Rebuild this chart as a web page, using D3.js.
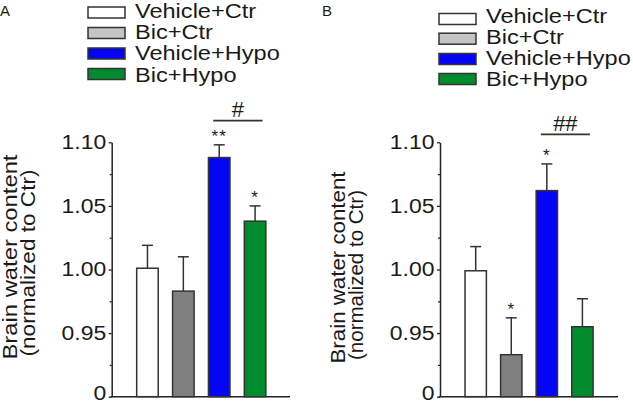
<!DOCTYPE html>
<html><head><meta charset="utf-8">
<script src="https://cdn.jsdelivr.net/npm/d3@7"></script>
<style>
html,body{margin:0;padding:0;background:#fff;}
svg text{font-family:"Liberation Sans",Arial,Helvetica,sans-serif;fill:#1a1a1a;}
</style></head>
<body>
<svg id="chart" width="633" height="404"></svg>
<script>
// ---- data ----
const categories = ["Vehicle+Ctr", "Bic+Ctr", "Vehicle+Hypo", "Bic+Hypo"];
const valuesA = [1.001, 0.983, 1.088, 1.038];
const errorsA = [0.018, 0.027, 0.010, 0.012];
const starsA  = ["", "", "**", "*"];
const valuesB = [0.999, 0.933, 1.062, 0.955];
const errorsB = [0.019, 0.029, 0.021, 0.022];
const starsB  = ["", "*", "*", ""];
const hashA = "#";
const hashB = "##";
const majorTicks = [0.90, 0.95, 1.00, 1.05, 1.10];
const tickLabels = ["0", "0.95", "1.00", "1.05", "1.10"];
const minorTicks = [0.925, 0.975, 1.025, 1.075];
const yLabel1 = "Brain water content";
const yLabel2 = "(normalized to Ctr)";
const barColors = ["#ffffff", "#808080", "#0505f5", "#008c2c"];
const legendColors = ["#ffffff", "#c4c4c4", "#0505f5", "#008c2c"];

const svg = d3.select("#chart");
const y = d3.scaleLinear().domain([0.90, 1.10]).range([396.7, 142.3]);
const SX = 1.12; // horizontal stretch of glyphs in the original figure

function stretchedText(g, x, yy, str, size, anchor, sx) {
  return g.append("text")
    .attr("transform", `translate(${x},${yy}) scale(${sx || SX},1)`)
    .attr("font-size", size)
    .attr("text-anchor", anchor || "start")
    .text(str);
}
function rotatedText(g, x, yCenter, str, size, len) {
  return g.append("text")
    .attr("transform", `translate(${x},${yCenter}) rotate(-90)`)
    .attr("font-size", size)
    .attr("text-anchor", "middle")
    .attr("textLength", len)
    .attr("lengthAdjust", "spacingAndGlyphs")
    .text(str);
}

function panel(cfg) {
  const g = svg.append("g");
  const x = d3.scaleBand().domain(categories).range(cfg.bandRange).paddingInner(0.4).paddingOuter(0.4);

  // y axis
  const axis = d3.axisLeft(y).tickValues(majorTicks).tickSize(3).tickSizeOuter(0).tickFormat(() => "");
  const ag = g.append("g").attr("transform", `translate(${cfg.axisX},0)`).call(axis);
  ag.select(".domain").attr("stroke", "#222").attr("stroke-width", 1.5);
  ag.selectAll(".tick line").attr("stroke", "#222").attr("stroke-width", 1.3);
  const minor = d3.axisLeft(y).tickValues(minorTicks).tickSize(2).tickSizeOuter(0).tickFormat(() => "");
  const mg = g.append("g").attr("transform", `translate(${cfg.axisX},0)`).call(minor);
  mg.select(".domain").remove();
  mg.selectAll(".tick line").attr("stroke", "#222").attr("stroke-width", 1.3);
  majorTicks.forEach((v, i) => {
    stretchedText(g, cfg.axisX - 5.5, Math.min(y(v) + 6.8, 400), tickLabels[i], 20.5, "end");
  });

  // x axis baseline
  g.append("line")
    .attr("x1", cfg.axisX - 1).attr("x2", cfg.xAxisEnd)
    .attr("y1", y(0.90)).attr("y2", y(0.90))
    .attr("stroke", "#222").attr("stroke-width", 1.5);

  // error bars
  const cap = 5.5;
  const eb = g.append("g").attr("stroke", "#333").attr("stroke-width", 1.5);
  categories.forEach((c, i) => {
    const cx = x(c) + x.bandwidth() / 2;
    const top = cfg.values[i] + cfg.errors[i];
    eb.append("line").attr("x1", cx).attr("x2", cx).attr("y1", y(cfg.values[i])).attr("y2", y(top));
    eb.append("line").attr("x1", cx - cap).attr("x2", cx + cap).attr("y1", y(top)).attr("y2", y(top));
  });

  // bars
  g.selectAll("rect.bar").data(categories).enter().append("rect")
    .attr("class", "bar")
    .attr("x", d => x(d))
    .attr("width", x.bandwidth())
    .attr("y", (d, i) => y(cfg.values[i]))
    .attr("height", (d, i) => y(0.90) - y(cfg.values[i]))
    .attr("fill", (d, i) => barColors[i])
    .attr("stroke", "#333").attr("stroke-width", 1.5);

  // stars
  categories.forEach((c, i) => {
    if (!cfg.stars[i]) return;
    const cx = x(c) + x.bandwidth() / 2;
    const top = cfg.values[i] + cfg.errors[i];
    g.append("text").attr("x", cx).attr("y", y(top) - 3)
      .attr("text-anchor", "middle").attr("font-size", 17)
      .attr("letter-spacing", "1px")
      .text(cfg.stars[i]);
  });
  // comparison line with hash
  const xa = x(categories[2]) + x.bandwidth() / 2 - 6;
  const xb = x(categories[3]) + x.bandwidth() / 2 + 7.5;
  g.append("line").attr("x1", xa).attr("x2", xb).attr("y1", cfg.hashY).attr("y2", cfg.hashY)
    .attr("stroke", "#333").attr("stroke-width", 1.8);
  g.append("text").attr("x", (xa + xb) / 2).attr("y", cfg.hashY - 3.5)
    .attr("text-anchor", "middle").attr("font-size", 22).text(cfg.hash);

  // y label (two lines)
  rotatedText(g, cfg.labelX, cfg.label1[0], yLabel1, 20, cfg.label1[1]);
  rotatedText(g, cfg.labelX + 17.5, cfg.label2[0], yLabel2, 20, cfg.label2[1]);

  // legend
  categories.forEach((c, i) => {
    const cy = cfg.legendY[i];
    g.append("rect").attr("x", cfg.legendX).attr("y", cy - 5.5).attr("width", 37).attr("height", 11)
      .attr("fill", legendColors[i]).attr("stroke", "#333").attr("stroke-width", 1.5);
    stretchedText(g, cfg.legendX + 47, cfg.legendText[i], c, 20.5, "start", 1.15);
  });

  // panel letter
  g.append("text").attr("x", cfg.letterX).attr("y", 16).attr("font-size", 15).text(cfg.letter);
}

panel({
  letter: "A", letterX: 0,
  values: valuesA, errors: errorsA, stars: starsA, hash: hashA, hashY: 120.7,
  axisX: 111.7, xAxisEnd: 290, bandRange: [122.35, 280.2],
  labelX: 17, label1: [257, 205], label2: [263, 187],
  legendX: 88, legendY: [12.5, 33, 53.5, 74], legendText: [18, 39, 60, 81.5]
});
panel({
  letter: "B", letterX: 322,
  values: valuesB, errors: errorsB, stars: starsB, hash: hashB, hashY: 134.3,
  axisX: 440, xAxisEnd: 618, bandRange: [450.8, 607.3],
  labelX: 345, label1: [267.5, 192], label2: [275, 170],
  legendX: 439, legendY: [19, 38.7, 59, 79], legendText: [23.3, 44, 64.5, 85.5]
});
</script>
</body></html>
